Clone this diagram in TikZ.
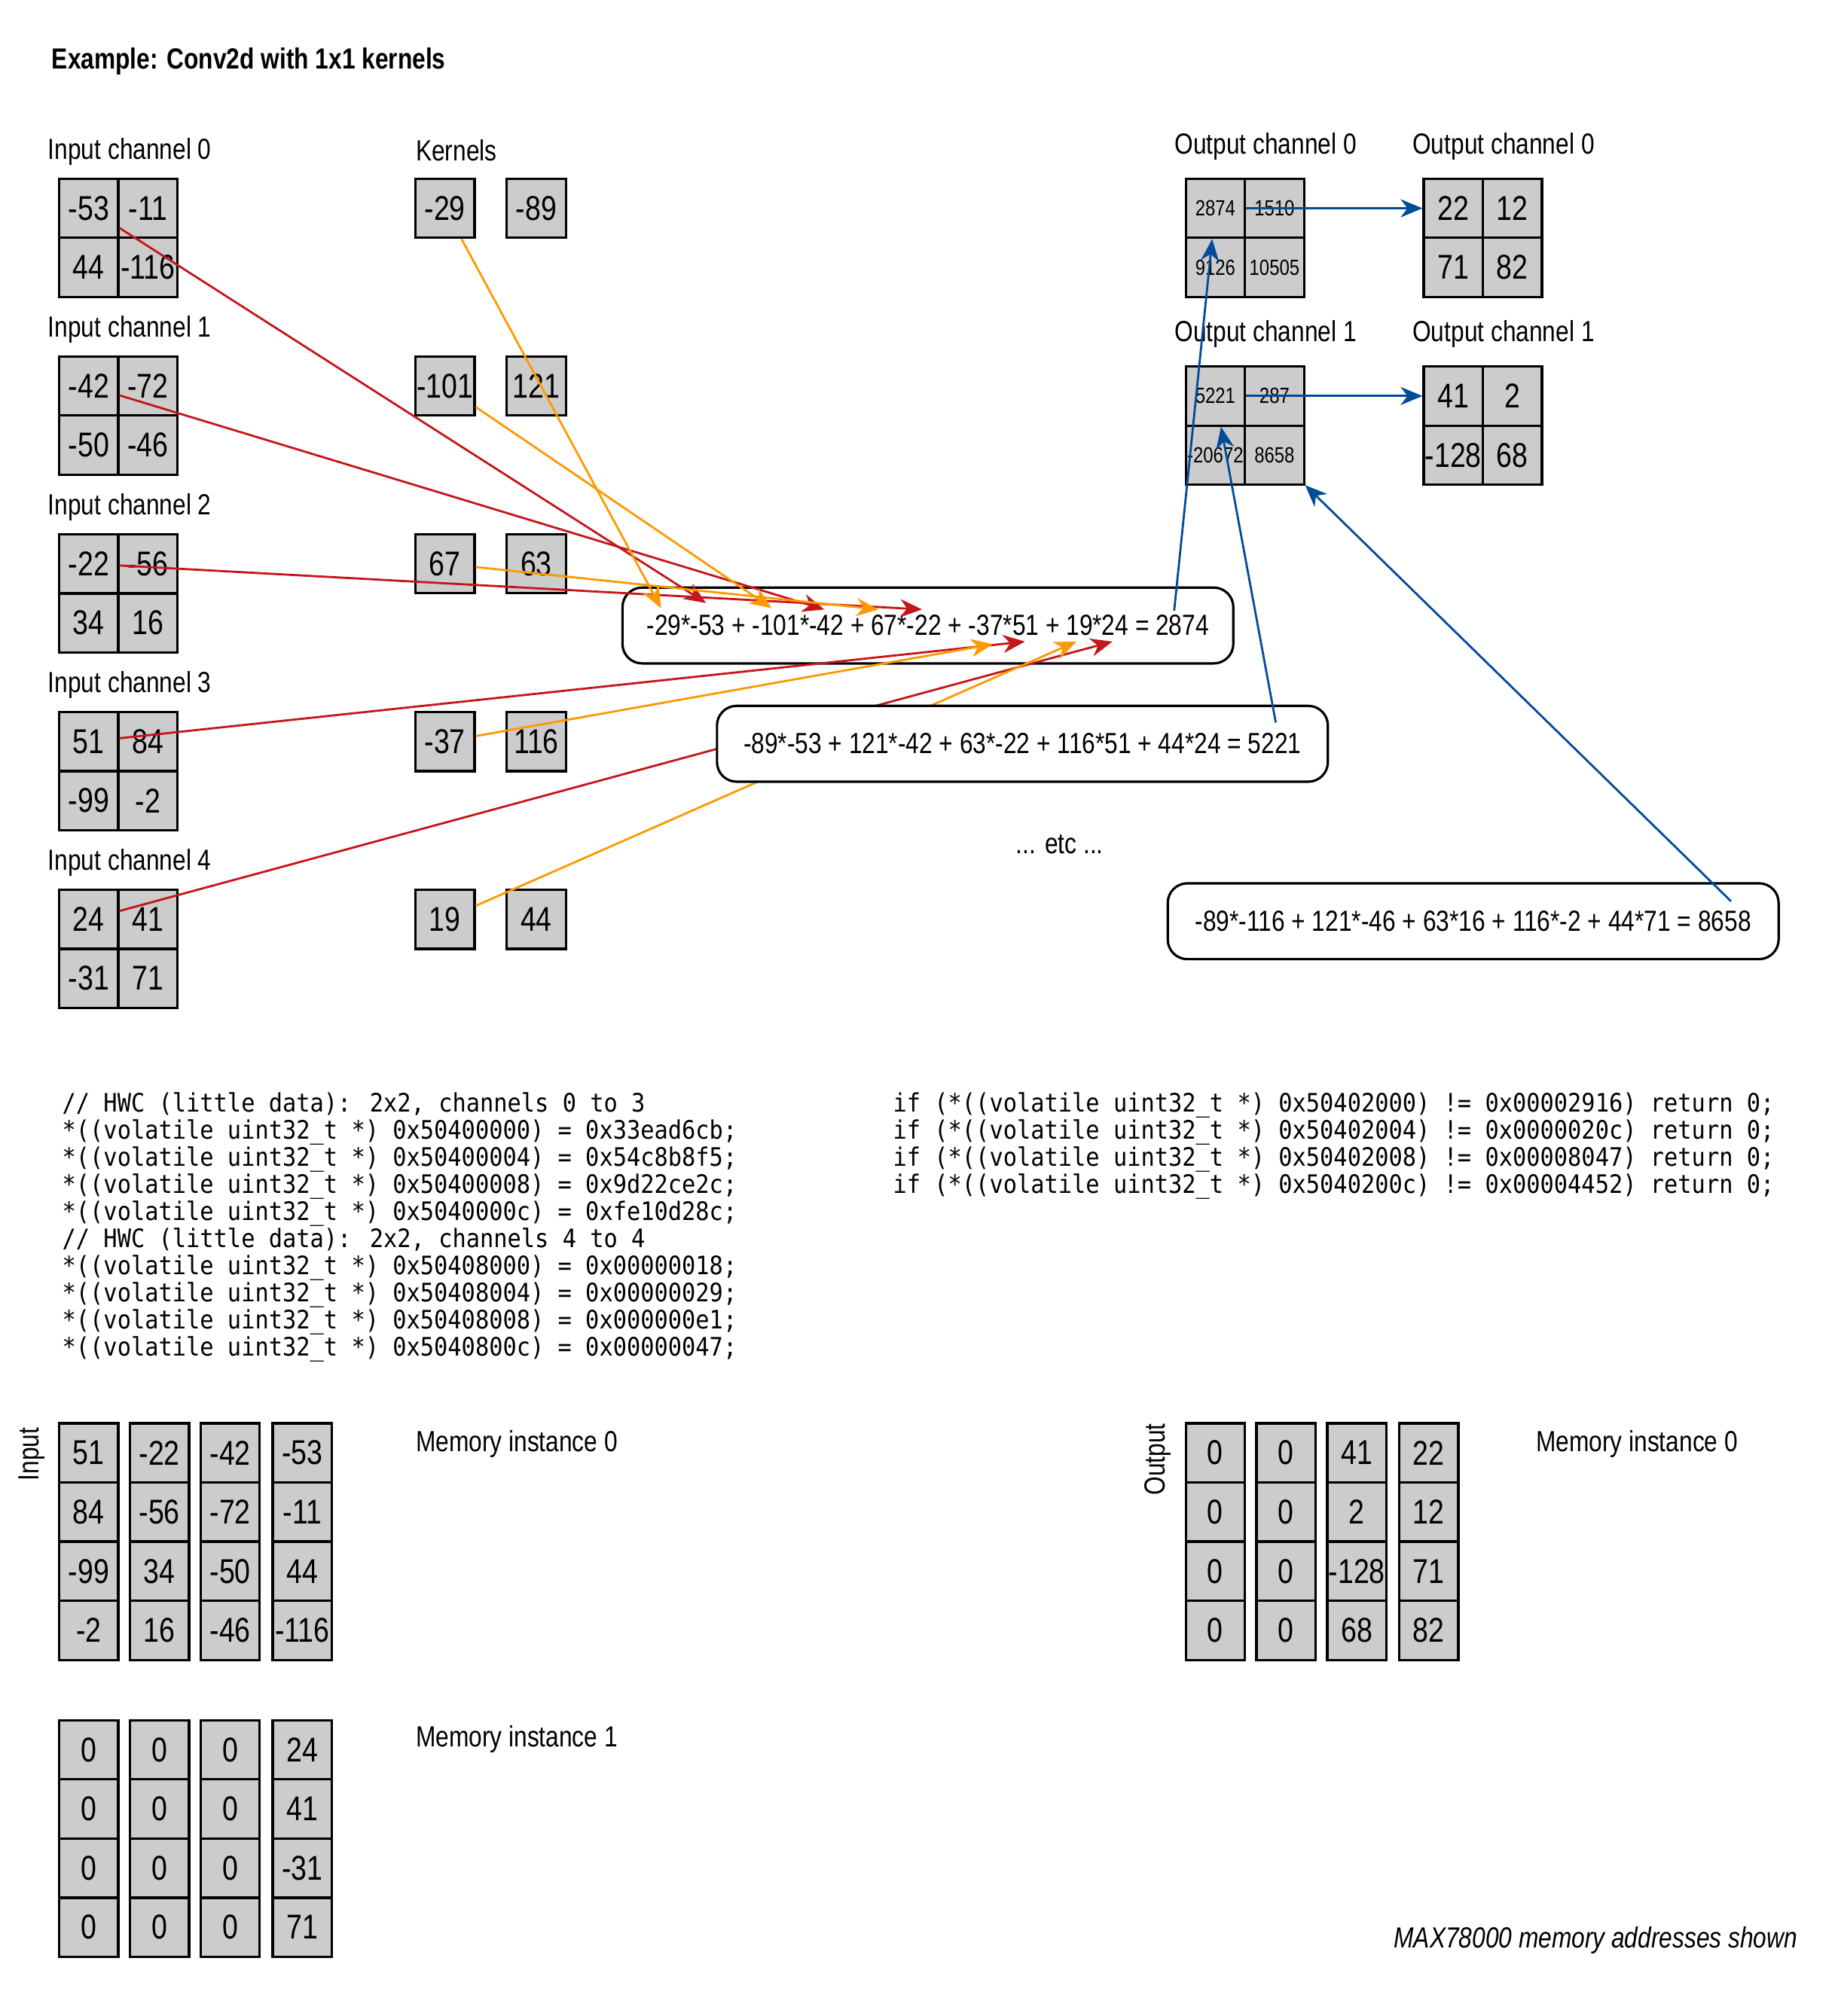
\documentclass[tikz,border=0pt]{standalone}
\usepackage{fontspec}
\setmainfont{Liberation Sans}[FakeStretch=0.82]
\newfontfamily\codefont{DejaVu Sans Mono}[FakeStretch=0.9]
\usetikzlibrary{arrows.meta}
\definecolor{cellgray}{HTML}{CCCCCC}
\definecolor{redline}{HTML}{C4161C}
\definecolor{orangeline}{HTML}{FF9900}
\definecolor{blueline}{HTML}{004C99}

\begin{document}
\begin{tikzpicture}
    [x=0.17075mm,y=-0.17075mm,
     lbl/.style={anchor=west,inner sep=0pt,font=\fontsize{11}{13}\selectfont},
     cell/.style={draw,line width=0.9pt,fill=cellgray,minimum size=7.85mm,inner sep=0pt,font=\fontsize{13}{13}\selectfont},
     smallcell/.style={cell,font=\fontsize{8.3}{8.3}\selectfont},
     eqbox/.style={draw,line width=0.9pt,fill=white,rounded corners=2.6mm,minimum width=81.1mm,minimum height=10.07mm,inner sep=0pt,font=\fontsize{11}{13}\selectfont},
     codetext/.style={anchor=north west,inner sep=0pt,align=left,font=\codefont\fontsize{9.6}{10.25}\selectfont},
     redarr/.style={draw=redline,line width=0.8pt,-{Stealth[length=2.9mm,width=2.4mm,inset=0.9mm]}},
     orangearr/.style={redarr,draw=orangeline},
     bluearr/.style={redarr,draw=blueline}]
    \useasboundingbox (0,0) rectangle (1429,1568);

    \node[lbl,font=\bfseries\fontsize{11}{13}\selectfont] (title) at (40,48) {Example: Conv2d with 1x1 kernels};
    \node[lbl] (kerlbl) at (323,117) {Kernels};

    \foreach \i/\va/\vb/\vc/\vd/\ka/\kb in {0/-53/-11/44/-116/-29/-89,1/-42/-72/-50/-46/-101/121,2/-22/-56/34/16/67/63,3/51/84/-99/-2/-37/116,4/24/41/-31/71/19/44}{
        \pgfmathsetmacro\ty{139+138.25*\i}
        \node[lbl] (inlbl\i) at (37,\ty-21) {Input channel \i};
        \node[cell] (in\i-a) at (69,\ty+23) {\va};
        \node[cell] (in\i-b) at (115,\ty+23) {\vb};
        \node[cell] (in\i-c) at (69,\ty+69) {\vc};
        \node[cell] (in\i-d) at (115,\ty+69) {\vd};
        \node[cell] (k\i-a) at (346,\ty+23) {\ka};
        \node[cell] (k\i-b) at (417,\ty+23) {\kb};
    }

    \foreach \i/\ty/\va/\vb/\vc/\vd/\fa/\fb/\fc/\fd in {0/139/2874/1510/9126/10505/22/12/71/82,1/285/5221/287/-20672/8658/41/2/-128/68}{
        \node[lbl] (outlbl\i) at (913,\ty-25) {Output channel \i};
        \node[lbl] (finlbl\i) at (1098,\ty-25) {Output channel \i};
        \node[smallcell] (oc\i-a) at (945,\ty+23) {\va};
        \node[smallcell] (oc\i-b) at (991,\ty+23) {\vb};
        \node[smallcell] (oc\i-c) at (945,\ty+69) {\vc};
        \node[smallcell] (oc\i-d) at (991,\ty+69) {\vd};
        \node[cell] (fc\i-a) at (1130,\ty+23) {\fa};
        \node[cell] (fc\i-b) at (1176,\ty+23) {\fb};
        \node[cell] (fc\i-c) at (1130,\ty+69) {\fc};
        \node[cell] (fc\i-d) at (1176,\ty+69) {\fd};
    }

    \node[eqbox] (eqA) at (721.5,486.5) {-29*-53 + -101*-42 + 67*-22 + -37*51 + 19*24 = 2874};

    \coordinate (rtip0) at (549,469);
    \coordinate (rtip1) at (641,474);
    \coordinate (rtip2) at (717,474);
    \coordinate (rtip3) at (797,499);
    \coordinate (rtip4) at (865,499);
    \coordinate (otip0) at (514,473);
    \coordinate (otip1) at (600,473);
    \coordinate (otip2) at (683,474);
    \coordinate (otip3) at (772,501);
    \coordinate (otip4) at (837,499);

    \foreach \from/\to in {in0-a/rtip0,in1-a/rtip1,in2-a/rtip2,in3-a/rtip3,in4-a/rtip4}
        \draw[redarr] (\from) -- (\to);
    \foreach \from/\to in {k0-a/otip0,k1-a/otip1,k2-a/otip2,k3-a/otip3,k4-a/otip4}
        \draw[orangearr] (\from) -- (\to);

    \node[eqbox] (eqB) at (795,578.5) {-89*-53 + 121*-42 + 63*-22 + 116*51 + 44*24 = 5221};
    \node[eqbox] (eqC) at (1145.5,716.5) {-89*-116 + 121*-46 + 63*16 + 116*-2 + 44*71 = 8658};
    \node[lbl,anchor=center] (etc) at (824,657) {... etc ...};

    \coordinate (srcA) at (913,475);
    \coordinate (srcB) at (992,562);
    \coordinate (srcC) at (1346,701);
    \foreach \from/\to in {srcA/oc0-a,srcB/oc1-a,srcC/oc1-d,oc0-a.east/fc0-a.west,oc1-a.east/fc1-a.west}
        \draw[bluearr] (\from) -- (\to);

    \node[codetext] (codein) at (48,849) {// HWC (little data): 2x2, channels 0 to 3\\
*((volatile uint32\_t *) 0x50400000) = 0x33ead6cb;\\
*((volatile uint32\_t *) 0x50400004) = 0x54c8b8f5;\\
*((volatile uint32\_t *) 0x50400008) = 0x9d22ce2c;\\
*((volatile uint32\_t *) 0x5040000c) = 0xfe10d28c;\\
// HWC (little data): 2x2, channels 4 to 4\\
*((volatile uint32\_t *) 0x50408000) = 0x00000018;\\
*((volatile uint32\_t *) 0x50408004) = 0x00000029;\\
*((volatile uint32\_t *) 0x50408008) = 0x000000e1;\\
*((volatile uint32\_t *) 0x5040800c) = 0x00000047;};
    \node[codetext] (codeout) at (694,849) {if (*((volatile uint32\_t *) 0x50402000) != 0x00002916) return 0;\\
if (*((volatile uint32\_t *) 0x50402004) != 0x0000020c) return 0;\\
if (*((volatile uint32\_t *) 0x50402008) != 0x00008047) return 0;\\
if (*((volatile uint32\_t *) 0x5040200c) != 0x00004452) return 0;};

    \node[lbl,rotate=90,anchor=center] (inmemlbl) at (25,1131) {Input};
    \node[lbl] (mem0lbl) at (323,1123) {Memory instance 0};
    \node[lbl] (mem1lbl) at (323,1353) {Memory instance 1};
    \foreach \va/\vb/\vc/\vd [count=\r from 0] in {51/-22/-42/-53,84/-56/-72/-11,-99/34/-50/44,-2/16/-46/-116}{
        \node[cell] (mi\r-a) at (69,1130+46*\r) {\va};
        \node[cell] (mi\r-b) at (124,1130+46*\r) {\vb};
        \node[cell] (mi\r-c) at (179,1130+46*\r) {\vc};
        \node[cell] (mi\r-d) at (235,1130+46*\r) {\vd};
    }
    \foreach \va/\vb/\vc/\vd [count=\r from 0] in {0/0/0/24,0/0/0/41,0/0/0/-31,0/0/0/71}{
        \node[cell] (mj\r-a) at (69,1361+46*\r) {\va};
        \node[cell] (mj\r-b) at (124,1361+46*\r) {\vb};
        \node[cell] (mj\r-c) at (179,1361+46*\r) {\vc};
        \node[cell] (mj\r-d) at (235,1361+46*\r) {\vd};
    }

    \node[lbl,rotate=90,anchor=center] (outmemlbl) at (900,1135) {Output};
    \node[lbl] (memolbl) at (1194,1123) {Memory instance 0};
    \foreach \va/\vb/\vc/\vd [count=\r from 0] in {0/0/41/22,0/0/2/12,0/0/-128/71,0/0/68/82}{
        \node[cell] (mo\r-a) at (945,1130+46*\r) {\va};
        \node[cell] (mo\r-b) at (1000,1130+46*\r) {\vb};
        \node[cell] (mo\r-c) at (1055,1130+46*\r) {\vc};
        \node[cell] (mo\r-d) at (1111,1130+46*\r) {\vd};
    }

    \node[lbl,anchor=east,font=\itshape\fontsize{11}{13}\selectfont] (note) at (1398,1509) {MAX78000 memory addresses shown};
\end{tikzpicture}
\end{document}
